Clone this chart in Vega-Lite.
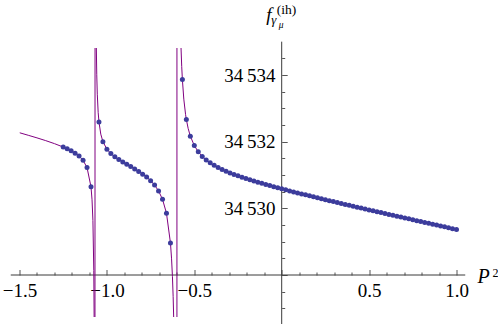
{
  "$schema": "https://vega.github.io/schema/vega-lite/v6.json",
  "width": 437,
  "height": 269,
  "autosize": "none",
  "padding": {"left": 19.5, "top": 48, "right": 41.5, "bottom": 7},
  "background": "white",
  "config": {"view": {"stroke": null}, "font": "Liberation Serif", "axis": {"labelFont": "Liberation Serif"}},
  "resolve": {"axis": {"x": "independent", "y": "independent"}},
  "datasets": {
    "axislines": [
      {"x": -1.55, "x2": 1.05, "y": 34528, "y2": 34528},
      {"x": 0, "x2": 0, "y": 34526.5, "y2": 34535}
    ],
    "pts": [
      {"x": -1.25, "y": 34531.839}, {"x": -1.22727, "y": 34531.786}, {"x": -1.20455, "y": 34531.727}, {"x": -1.18182, "y": 34531.656},
      {"x": -1.15909, "y": 34531.567}, {"x": -1.13636, "y": 34531.441}, {"x": -1.11364, "y": 34531.223}, {"x": -1.09091, "y": 34530.644},
      {"x": -1.04545, "y": 34532.593}, {"x": -1.02273, "y": 34531.998}, {"x": -1.0, "y": 34531.775}, {"x": -0.97727, "y": 34531.642},
      {"x": -0.95455, "y": 34531.544}, {"x": -0.93182, "y": 34531.463}, {"x": -0.90909, "y": 34531.391}, {"x": -0.88636, "y": 34531.321},
      {"x": -0.86364, "y": 34531.252}, {"x": -0.84091, "y": 34531.182}, {"x": -0.81818, "y": 34531.107}, {"x": -0.79545, "y": 34531.025},
      {"x": -0.77273, "y": 34530.938}, {"x": -0.75, "y": 34530.831}, {"x": -0.72727, "y": 34530.698}, {"x": -0.70455, "y": 34530.523},
      {"x": -0.68182, "y": 34530.270}, {"x": -0.65909, "y": 34529.851}, {"x": -0.63636, "y": 34528.959},
      {"x": -0.56818, "y": 34533.864}, {"x": -0.54545, "y": 34532.666}, {"x": -0.52273, "y": 34532.166}, {"x": -0.5, "y": 34531.883},
      {"x": -0.47727, "y": 34531.695}, {"x": -0.45455, "y": 34531.558}, {"x": -0.43182, "y": 34531.451}, {"x": -0.40909, "y": 34531.364},
      {"x": -0.38636, "y": 34531.289}, {"x": -0.36364, "y": 34531.224}, {"x": -0.34091, "y": 34531.166}, {"x": -0.31818, "y": 34531.112},
      {"x": -0.29545, "y": 34531.063}, {"x": -0.27273, "y": 34531.017}, {"x": -0.25, "y": 34530.974}, {"x": -0.22727, "y": 34530.933},
      {"x": -0.20455, "y": 34530.894}, {"x": -0.18182, "y": 34530.856}, {"x": -0.15909, "y": 34530.819}, {"x": -0.13636, "y": 34530.783},
      {"x": -0.11364, "y": 34530.749}, {"x": -0.09091, "y": 34530.715}, {"x": -0.06818, "y": 34530.682}, {"x": -0.04545, "y": 34530.649},
      {"x": -0.02273, "y": 34530.617}, {"x": 0.0, "y": 34530.585}, {"x": 0.02273, "y": 34530.554}, {"x": 0.04545, "y": 34530.523},
      {"x": 0.06818, "y": 34530.493}, {"x": 0.09091, "y": 34530.463}, {"x": 0.11364, "y": 34530.433}, {"x": 0.13636, "y": 34530.404},
      {"x": 0.15909, "y": 34530.374}, {"x": 0.18182, "y": 34530.345}, {"x": 0.20455, "y": 34530.316}, {"x": 0.22727, "y": 34530.288},
      {"x": 0.25, "y": 34530.259}, {"x": 0.27273, "y": 34530.231}, {"x": 0.29545, "y": 34530.202}, {"x": 0.31818, "y": 34530.174},
      {"x": 0.34091, "y": 34530.146}, {"x": 0.36364, "y": 34530.118}, {"x": 0.38636, "y": 34530.091}, {"x": 0.40909, "y": 34530.063},
      {"x": 0.43182, "y": 34530.036}, {"x": 0.45455, "y": 34530.008}, {"x": 0.47727, "y": 34529.981}, {"x": 0.5, "y": 34529.953},
      {"x": 0.52273, "y": 34529.926}, {"x": 0.54545, "y": 34529.899}, {"x": 0.56818, "y": 34529.872}, {"x": 0.59091, "y": 34529.845},
      {"x": 0.61364, "y": 34529.818}, {"x": 0.63636, "y": 34529.791}, {"x": 0.65909, "y": 34529.764}, {"x": 0.68182, "y": 34529.737},
      {"x": 0.70455, "y": 34529.710}, {"x": 0.72727, "y": 34529.684}, {"x": 0.75, "y": 34529.657}, {"x": 0.77273, "y": 34529.630},
      {"x": 0.79545, "y": 34529.603}, {"x": 0.81818, "y": 34529.577}, {"x": 0.84091, "y": 34529.550}, {"x": 0.86364, "y": 34529.524},
      {"x": 0.88636, "y": 34529.497}, {"x": 0.90909, "y": 34529.471}, {"x": 0.93182, "y": 34529.444}, {"x": 0.95455, "y": 34529.418},
      {"x": 0.97727, "y": 34529.391}, {"x": 1.0, "y": 34529.365}
    ],
    "curve": [
      {"x": -1.5, "y": 34532.268}, {"x": -1.45, "y": 34532.192}, {"x": -1.4, "y": 34532.114}, {"x": -1.35, "y": 34532.031}, {"x": -1.3, "y": 34531.941},
      {"x": -1.25, "y": 34531.839}, {"x": -1.22727, "y": 34531.786}, {"x": -1.20455, "y": 34531.727}, {"x": -1.18182, "y": 34531.656},
      {"x": -1.15909, "y": 34531.567}, {"x": -1.13636, "y": 34531.441}, {"x": -1.11364, "y": 34531.223}, {"x": -1.09091, "y": 34530.644},
      {"x": -1.085, "y": 34530.256}, {"x": -1.08, "y": 34529.635}, {"x": -1.075, "y": 34528.139}, {"x": -1.073, "y": 34526.707},
      {"x": -1.071, "y": 34523.371}, {"x": -1.069, "y": 34506.700},
      {"x": -1.067, "y": 34556.520}, {"x": -1.065, "y": 34539.851}, {"x": -1.0605, "y": 34534.843}, {"x": -1.058, "y": 34534.006},
      {"x": -1.055, "y": 34533.424}, {"x": -1.05, "y": 34532.881}, {"x": -1.04545, "y": 34532.593}, {"x": -1.035, "y": 34532.225},
      {"x": -1.02273, "y": 34531.998}, {"x": -1.0, "y": 34531.775}, {"x": -0.97727, "y": 34531.642},
      {"x": -0.95455, "y": 34531.544}, {"x": -0.93182, "y": 34531.463}, {"x": -0.90909, "y": 34531.391}, {"x": -0.88636, "y": 34531.321},
      {"x": -0.86364, "y": 34531.252}, {"x": -0.84091, "y": 34531.182}, {"x": -0.81818, "y": 34531.107}, {"x": -0.79545, "y": 34531.025},
      {"x": -0.77273, "y": 34530.938}, {"x": -0.75, "y": 34530.831}, {"x": -0.72727, "y": 34530.698}, {"x": -0.70455, "y": 34530.523},
      {"x": -0.68182, "y": 34530.270}, {"x": -0.65909, "y": 34529.851}, {"x": -0.63636, "y": 34528.959},
      {"x": -0.63, "y": 34528.484}, {"x": -0.625, "y": 34527.950}, {"x": -0.621, "y": 34527.350}, {"x": -0.6179, "y": 34526.712},
      {"x": -0.61, "y": 34523.471}, {"x": -0.6, "y": 34476.185},
      {"x": -0.598, "y": 34646.143}, {"x": -0.59, "y": 34540.577}, {"x": -0.585, "y": 34537.198}, {"x": -0.58, "y": 34535.594},
      {"x": -0.5762, "y": 34534.844}, {"x": -0.572, "y": 34534.259}, {"x": -0.56818, "y": 34533.864}, {"x": -0.56, "y": 34533.276},
      {"x": -0.55, "y": 34532.819}, {"x": -0.54545, "y": 34532.666}, {"x": -0.535, "y": 34532.394}, {"x": -0.52273, "y": 34532.166},
      {"x": -0.5, "y": 34531.883}, {"x": -0.47727, "y": 34531.695}, {"x": -0.45455, "y": 34531.558}, {"x": -0.43182, "y": 34531.451},
      {"x": -0.40909, "y": 34531.364}, {"x": -0.38636, "y": 34531.289}, {"x": -0.36364, "y": 34531.224}, {"x": -0.34091, "y": 34531.166},
      {"x": -0.31818, "y": 34531.112}, {"x": -0.29545, "y": 34531.063}, {"x": -0.27273, "y": 34531.017}, {"x": -0.25, "y": 34530.974},
      {"x": -0.20455, "y": 34530.894}, {"x": -0.15909, "y": 34530.819}, {"x": -0.11364, "y": 34530.749}, {"x": -0.06818, "y": 34530.682},
      {"x": -0.02273, "y": 34530.617}, {"x": 0.0, "y": 34530.585}, {"x": 0.04545, "y": 34530.523}, {"x": 0.09091, "y": 34530.463},
      {"x": 0.13636, "y": 34530.404}, {"x": 0.18182, "y": 34530.345}, {"x": 0.22727, "y": 34530.288}, {"x": 0.27273, "y": 34530.231},
      {"x": 0.31818, "y": 34530.174}, {"x": 0.36364, "y": 34530.118}, {"x": 0.40909, "y": 34530.063}, {"x": 0.45455, "y": 34530.008},
      {"x": 0.5, "y": 34529.953}, {"x": 0.54545, "y": 34529.899}, {"x": 0.59091, "y": 34529.845}, {"x": 0.63636, "y": 34529.791},
      {"x": 0.68182, "y": 34529.737}, {"x": 0.72727, "y": 34529.684}, {"x": 0.77273, "y": 34529.630}, {"x": 0.81818, "y": 34529.577},
      {"x": 0.86364, "y": 34529.524}, {"x": 0.90909, "y": 34529.471}, {"x": 0.95455, "y": 34529.418}, {"x": 1.0, "y": 34529.365}
    ],
    "titles": [
      {"t": "P"}, {"t": "2"}, {"t": "f"}, {"t": "(ih)"}, {"t": "γ"}, {"t": "μ"}
    ]
  },
  "layer": [
    {
      "data": {"name": "axislines"},
      "mark": {"type": "rule", "color": "#3a3a3a", "strokeWidth": 1, "clip": false},
      "encoding": {
        "x": {
          "field": "x", "type": "quantitative",
          "scale": {"domain": [-1.5, 1.0], "nice": false, "zero": false},
          "axis": {
            "orient": "bottom", "offset": -42, "domain": false, "grid": false, "title": null,
            "values": [-1.5, -1.0, -0.5, 0, 0.5, 1.0],
            "tickSize": -5.5, "tickColor": "#555555", "tickWidth": 1,
            "labelExpr": "abs(datum.value) > 0.01 ? format(datum.value, '.1f') : ''",
            "labelFont": "Liberation Serif", "labelFontSize": 19, "labelColor": "#000000",
            "labelPadding": 12.3, "labelOverlap": false, "labelFlush": false, "labelBound": false
          }
        },
        "x2": {"field": "x2"},
        "y": {
          "field": "y", "type": "quantitative",
          "scale": {"domain": [34526.74, 34534.81], "nice": false, "zero": false},
          "axis": {
            "orient": "left", "offset": -262.2, "domain": false, "grid": false, "title": null,
            "values": [34528, 34530, 34532, 34534],
            "tickSize": -5.5, "tickColor": "#555555", "tickWidth": 1,
            "labelExpr": "datum.value != 34528 ? '34\u2009' + format(datum.value - 34000, 'd') : ''",
            "labelFont": "Liberation Serif", "labelFontSize": 19, "labelColor": "#000000",
            "labelPadding": 12.2, "labelOverlap": false, "labelFlush": false, "labelBound": false
          }
        },
        "y2": {"field": "y2"}
      }
    },
    {
      "data": {"name": "curve"},
      "mark": {"type": "line", "color": "#800080", "strokeWidth": 1, "clip": true},
      "encoding": {
        "x": {
          "field": "x", "type": "quantitative",
          "scale": {"domain": [-1.5, 1.0], "nice": false, "zero": false},
          "axis": {
            "orient": "bottom", "offset": -42, "domain": false, "grid": false, "title": null, "labels": false,
            "values": [-1.4, -1.3, -1.2, -1.1, -0.9, -0.8, -0.7, -0.6, -0.4, -0.3, -0.2, -0.1, 0.1, 0.2, 0.3, 0.4, 0.6, 0.7, 0.8, 0.9],
            "tickSize": -3, "tickColor": "#555555", "tickWidth": 1
          }
        },
        "y": {
          "field": "y", "type": "quantitative",
          "scale": {"domain": [34526.74, 34534.81], "nice": false, "zero": false},
          "axis": {
            "orient": "left", "offset": -262.2, "domain": false, "grid": false, "title": null, "labels": false,
            "values": [34527, 34527.5, 34528.5, 34529, 34529.5, 34530.5, 34531, 34531.5, 34532.5, 34533, 34533.5, 34534.5],
            "tickSize": -3, "tickColor": "#555555", "tickWidth": 1
          }
        }
      }
    },
    {
      "data": {"name": "pts"},
      "mark": {"type": "circle", "color": "#3c3c9c", "size": 25, "opacity": 1},
      "encoding": {
        "x": {"field": "x", "type": "quantitative", "scale": {"domain": [-1.5, 1.0], "nice": false, "zero": false}, "axis": null},
        "y": {"field": "y", "type": "quantitative", "scale": {"domain": [34526.74, 34534.81], "nice": false, "zero": false}, "axis": null}
      }
    },
    {
      "data": {"name": "titles"},
      "transform": [{"filter": "datum.t == 'P'"}],
      "mark": {"type": "text", "font": "Liberation Serif", "fontSize": 20, "fontStyle": "italic", "align": "left", "baseline": "alphabetic", "dx": 21, "dy": 8, "color": "#000000"},
      "encoding": {
        "x": {"datum": 1.0, "type": "quantitative", "scale": {"domain": [-1.5, 1.0], "nice": false, "zero": false}, "axis": null},
        "y": {"datum": 34528, "type": "quantitative", "scale": {"domain": [34526.74, 34534.81], "nice": false, "zero": false}, "axis": null},
        "text": {"field": "t"}
      }
    },
    {
      "data": {"name": "titles"},
      "transform": [{"filter": "datum.t == '2'"}],
      "mark": {"type": "text", "font": "Liberation Serif", "fontSize": 12, "align": "left", "baseline": "alphabetic", "dx": 36, "dy": 2, "color": "#000000"},
      "encoding": {
        "x": {"datum": 1.0, "type": "quantitative", "scale": {"domain": [-1.5, 1.0], "nice": false, "zero": false}, "axis": null},
        "y": {"datum": 34528, "type": "quantitative", "scale": {"domain": [34526.74, 34534.81], "nice": false, "zero": false}, "axis": null},
        "text": {"field": "t"}
      }
    },
    {
      "data": {"name": "titles"},
      "transform": [{"filter": "datum.t == 'f'"}],
      "mark": {"type": "text", "font": "Liberation Serif", "fontSize": 19, "fontStyle": "italic", "align": "left", "baseline": "alphabetic", "dx": -15.5, "dy": -27, "color": "#000000"},
      "encoding": {
        "x": {"datum": 0, "type": "quantitative", "scale": {"domain": [-1.5, 1.0], "nice": false, "zero": false}, "axis": null},
        "y": {"datum": 34534.81, "type": "quantitative", "scale": {"domain": [34526.74, 34534.81], "nice": false, "zero": false}, "axis": null},
        "text": {"field": "t"}
      }
    },
    {
      "data": {"name": "titles"},
      "transform": [{"filter": "datum.t == '(ih)'"}],
      "mark": {"type": "text", "font": "Liberation Serif", "fontSize": 13.5, "align": "left", "baseline": "alphabetic", "dx": -5, "dy": -34, "color": "#000000"},
      "encoding": {
        "x": {"datum": 0, "type": "quantitative", "scale": {"domain": [-1.5, 1.0], "nice": false, "zero": false}, "axis": null},
        "y": {"datum": 34534.81, "type": "quantitative", "scale": {"domain": [34526.74, 34534.81], "nice": false, "zero": false}, "axis": null},
        "text": {"field": "t"}
      }
    },
    {
      "data": {"name": "titles"},
      "transform": [{"filter": "datum.t == 'γ'"}],
      "mark": {"type": "text", "font": "Liberation Serif", "fontSize": 13, "fontStyle": "italic", "align": "left", "baseline": "alphabetic", "dx": -10.5, "dy": -24, "color": "#000000"},
      "encoding": {
        "x": {"datum": 0, "type": "quantitative", "scale": {"domain": [-1.5, 1.0], "nice": false, "zero": false}, "axis": null},
        "y": {"datum": 34534.81, "type": "quantitative", "scale": {"domain": [34526.74, 34534.81], "nice": false, "zero": false}, "axis": null},
        "text": {"field": "t"}
      }
    },
    {
      "data": {"name": "titles"},
      "transform": [{"filter": "datum.t == 'μ'"}],
      "mark": {"type": "text", "font": "Liberation Serif", "fontSize": 9.5, "fontStyle": "italic", "align": "left", "baseline": "alphabetic", "dx": -3, "dy": -20, "color": "#000000"},
      "encoding": {
        "x": {"datum": 0, "type": "quantitative", "scale": {"domain": [-1.5, 1.0], "nice": false, "zero": false}, "axis": null},
        "y": {"datum": 34534.81, "type": "quantitative", "scale": {"domain": [34526.74, 34534.81], "nice": false, "zero": false}, "axis": null},
        "text": {"field": "t"}
      }
    }
  ]
}
